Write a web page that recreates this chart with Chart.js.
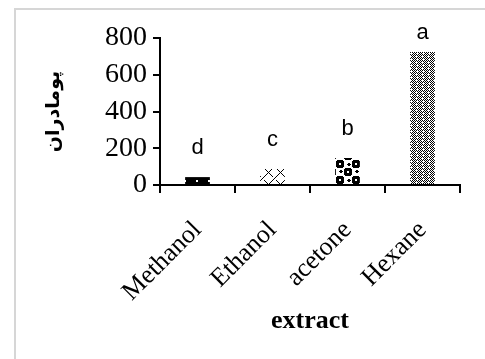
<!DOCTYPE html>
<html lang="en">
<head>
  <meta charset="UTF-8">
  <title>Extract bar chart</title>
  <script src="https://cdn.jsdelivr.net/npm/chart.js"></script>
  <style>
    body {
      margin: 0;
      overflow: hidden;
      background: #fff;
    }
    #frame {
      position: absolute;
      left: 14px;
      top: 8px;
      width: 600px;
      height: 600px;
      border-left: 2px solid #d6d6d6;
      border-top: 2px solid #d6d6d6;
    }
    #wrap {
      position: absolute;
      left: 0;
      top: 0;
      width: 485px;
      height: 359px;
    }
  </style>
</head>
<body>
  <div id="frame"></div>
  <div id="wrap"><canvas id="chart" width="485" height="359"></canvas></div>

  <script>
    const categories = ["Methanol", "Ethanol", "acetone", "Hexane"];
    const values = [43, 87, 147, 724];
    const letters = ["d", "c", "b", "a"];
    const yTicks = [0, 200, 400, 600, 800];

    // build a small fill pattern from rows of '#' (black) and '.' (white)
    function makePattern(rows) {
      const c = document.createElement("canvas");
      c.width = rows[0].length;
      c.height = rows.length;
      const g = c.getContext("2d");
      g.fillStyle = "#fff";
      g.fillRect(0, 0, c.width, c.height);
      g.fillStyle = "#000";
      rows.forEach((r, y) => {
        for (let x = 0; x < r.length; x++) {
          if (r[x] === "#") g.fillRect(x, y, 1, 1);
        }
      });
      return g.createPattern(c, "repeat");
    }

    const patMethanol = makePattern([
      "############",
      "############",
      "############",
      "############",
      "####..######",
      "####..######",
      "############",
      "############"
    ]);
    const patEthanol = makePattern([
      "#.......#...",
      ".#.....#....",
      "..#...#.....",
      "...#.#......",
      "....#.......",
      "...#.#......",
      "..#...#.....",
      ".#.....#....",
      "#.......#...",
      "...........#",
      "..........#.",
      ".........#.."
    ]);
    const patAcetone = makePattern([
      ".######.........",
      "########........",
      "########........",
      "###..###....##..",
      "###..###...####.",
      "########....##..",
      "########........",
      ".######.........",
      ".........######.",
      "........########",
      "....##..########",
      "...####.###..###",
      "....##..###..###",
      "........########",
      "........########",
      ".........######."
    ]);
    const patHexane = makePattern([
      "#.#.#.",
      ".#.#.#",
      "#...#.",
      ".#.#.#",
      "#.#.#.",
      ".#...#"
    ]);

    const letterPlugin = {
      id: "letters",
      afterDatasetsDraw(chart) {
        const ctx = chart.ctx;
        const meta = chart.getDatasetMeta(0);
        ctx.save();
        ctx.font = "22px 'Liberation Sans', Arial, sans-serif";
        ctx.fillStyle = "#000";
        ctx.textAlign = "center";
        ctx.textBaseline = "middle";
        meta.data.forEach((bar, i) => {
          const y = Math.max(bar.y - 29, chart.chartArea.top - 5);
          ctx.fillText(letters[i], bar.x, y);
        });
        ctx.restore();
      }
    };

    const serif = "'Liberation Serif', 'Times New Roman', serif";

    const ctx = document.getElementById("chart").getContext("2d");
    new Chart(ctx, {
      type: "bar",
      data: {
        labels: categories,
        datasets: [{
          data: values,
          backgroundColor: [patMethanol, patEthanol, patAcetone, patHexane],
          borderWidth: 0,
          barPercentage: 0.33,
          categoryPercentage: 1
        }]
      },
      options: {
        responsive: false,
        animation: false,
        layout: {
          padding: { left: 0, right: 25, top: 38, bottom: 0 }
        },
        plugins: {
          legend: { display: false },
          tooltip: { enabled: false }
        },
        scales: {
          x: {
            afterFit(axis) { axis.height = 174; },
            grid: {
              drawOnChartArea: false,
              color: "#000",
              lineWidth: 2,
              tickLength: 8,
              offset: true
            },
            border: { color: "#000", width: 2 },
            ticks: {
              color: "#000",
              minRotation: 45,
              maxRotation: 45,
              autoSkip: false,
              padding: 22,
              font: { family: serif, size: 26 }
            },
            title: {
              display: true,
              text: "extract",
              color: "#000",
              padding: { top: 0, bottom: 22 },
              font: { family: serif, size: 26, weight: "bold" }
            }
          },
          y: {
            min: 0,
            max: 800,
            afterFit(axis) { axis.width = 160; },
            afterBuildTicks(axis) {
              axis.ticks = yTicks.map(v => ({ value: v }));
            },
            grid: {
              drawOnChartArea: false,
              color: "#000",
              lineWidth: 2,
              tickLength: 7
            },
            border: { color: "#000", width: 2 },
            ticks: {
              color: "#000",
              autoSkip: false,
              padding: 6,
              font: { family: serif, size: 28 }
            },
            title: {
              display: true,
              text: "پومادران",
              color: "#000",
              padding: { top: 43, bottom: 0 },
              font: { family: "'DejaVu Sans', sans-serif", size: 19, weight: "bold" }
            }
          }
        }
      },
      plugins: [letterPlugin]
    });
  </script>
</body>
</html>
